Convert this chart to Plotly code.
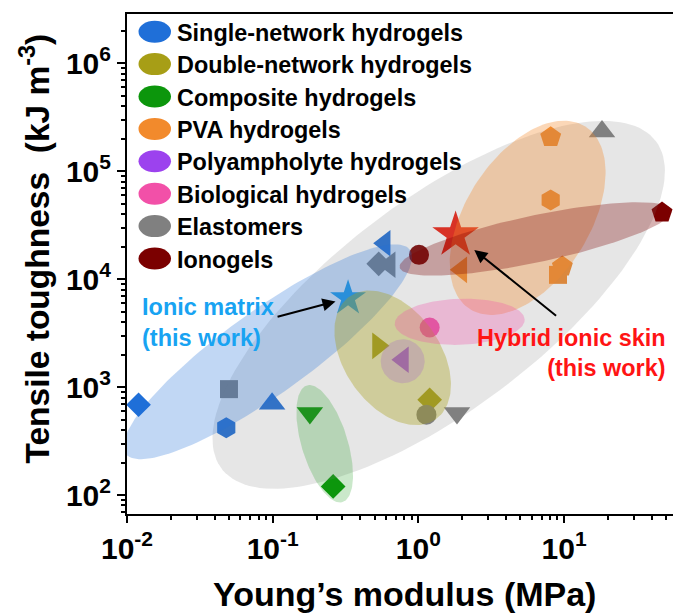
import numpy as np
import plotly.graph_objects as go

# ---------------- data ----------------
categories = ["Single-network hydrogels", "Double-network hydrogels", "Composite hydrogels",
              "PVA hydrogels", "Polyampholyte hydrogels", "Biological hydrogels",
              "Elastomers", "Ionogels"]
colors = ["#1F6FD8", "#A79E16", "#0C960C", "#F28A2C", "#9C42EE", "#F250A8", "#808080", "#7B0000"]

# Young's modulus (MPa), tensile toughness (kJ m^-3), marker symbol
single_E = [0.012, 0.048, 0.099, 0.587]
single_T = [686, 420, 700, 21500]
single_sym = ["diamond", "hexagon", "triangle-up", "triangle-left"]

double_E = [0.528, 1.195]
double_T = [2410, 763]
double_sym = ["triangle-right", "diamond"]

composite_E = [0.18, 0.26]
composite_T = [574, 120]
composite_sym = ["triangle-down", "diamond"]

pva_E = [8.09, 8.09, 9.73, 9.08, 1.97]
pva_T = [206500, 54200, 13100, 10960, 12190]
pva_sym = ["pentagon", "hexagon", "pentagon", "square", "triangle-left"]

polyampholyte_E = [0.783]
polyampholyte_T = [1790]
polyampholyte_sym = ["triangle-left"]

biological_E = [1.195]
biological_T = [3565]
biological_sym = ["circle"]

elastomer_E = [0.0501, 0.534, 0.635, 1.135, 1.84, 18.2]
elastomer_T = [957, 13870, 13600, 555, 574, 232800]
elastomer_sym = ["square", "diamond", "triangle-left", "circle", "triangle-down", "triangle-up"]

ionogel_E = [1.01, 47.0]
ionogel_T = [16800, 41400]
ionogel_sym = ["circle", "pentagon"]

# this work
matrix_E, matrix_T = 0.329, 6670
skin_E, skin_T = 1.80, 25700

x_tickvals = [0.01, 0.1, 1, 10]
x_ticktext = ["10<sup>-2</sup>", "10<sup>-1</sup>", "10<sup>0</sup>", "10<sup>1</sup>"]
y_tickvals = [1e2, 1e3, 1e4, 1e5, 1e6]
y_ticktext = ["10<sup>2</sup>", "10<sup>3</sup>", "10<sup>4</sup>", "10<sup>5</sup>", "10<sup>6</sup>"]

# ---------------- layout geometry ----------------
W, H = 673, 613
ML, MR, MT, MB = 127, 0, 14, 99
PW, PH = W - ML - MR, H - MT - MB
X_RANGE = [-2.0, 1.7474]
Y_RANGE = [1.8241, 6.4565]
PX_DEC_X = PW / (X_RANGE[1] - X_RANGE[0])
PX_DEC_Y = PH / (Y_RANGE[1] - Y_RANGE[0])

FONT = "Liberation Sans, Arial, sans-serif"

def px_x(p):
    return (p - ML) / PW

def px_y(p):
    return (H - MB - p) / PH

SIZES = {"diamond": 19, "hexagon": 21, "triangle-up": 23, "triangle-down": 23,
         "triangle-left": 23, "triangle-right": 23, "pentagon": 22, "square": 18,
         "circle": 20}

groups = [
    (single_E, single_T, single_sym, colors[0]),
    (double_E, double_T, double_sym, colors[1]),
    (composite_E, composite_T, composite_sym, colors[2]),
    (pva_E, pva_T, pva_sym, colors[3]),
    (polyampholyte_E, polyampholyte_T, polyampholyte_sym, colors[4]),
    (biological_E, biological_T, biological_sym, colors[5]),
    (elastomer_E, elastomer_T, elastomer_sym, colors[6]),
    (ionogel_E, ionogel_T, ionogel_sym, colors[7]),
]

fig = go.Figure()

for E, T, sym, col in groups:
    fig.add_trace(go.Scatter(
        x=E, y=T, mode="markers", showlegend=False, hoverinfo="skip",
        marker=dict(symbol=sym, size=[SIZES[s] for s in sym], color=col,
                    opacity=1, line=dict(width=0))))

fig.add_trace(go.Scatter(x=[matrix_E], y=[matrix_T], mode="markers", showlegend=False,
                         marker=dict(symbol="star", size=27, color="#18A3F2", line=dict(width=0))))
fig.add_trace(go.Scatter(x=[skin_E], y=[skin_T], mode="markers", showlegend=False,
                         marker=dict(symbol="star", size=35, color="#EE1E10", line=dict(width=0))))

# translucent regions: center (E, T), half axes in px, screen angle in degrees, fill
regions = [
    (1.378, 5780, 272, 105, 37, "rgba(128,128,128,0.20)"),
    (0.0924, 2124, 175, 42, 35.6, "rgba(31,111,216,0.28)"),
    (0.2275, 298.6, 61, 23, -73, "rgba(12,150,12,0.22)"),
    (0.666, 1867, 75, 48, -55, "rgba(167,158,22,0.36)"),
    (5.62, 36980, 108, 62, 57.7, "rgba(242,138,44,0.34)"),
    (1.92, 4027, 65, 23, 2, "rgba(242,80,168,0.30)"),
    (6.38, 23600, 139, 23.5, 11.9, "rgba(123,0,0,0.30)"),
    (0.78, 1734, 22, 22, 0, "rgba(170,110,200,0.30)"),
]

def ellipse(cE, cT, a, b, ang, n=160):
    t = np.linspace(0, 2 * np.pi, n)
    th = np.radians(ang)
    dx = a * np.cos(t) * np.cos(th) - b * np.sin(t) * np.sin(th)
    dy = a * np.cos(t) * np.sin(th) + b * np.sin(t) * np.cos(th)
    return (10 ** (np.log10(cE) + dx / PX_DEC_X),
            10 ** (np.log10(cT) + dy / PX_DEC_Y))

for cE, cT, a, b, ang, fc in regions:
    ex, ey = ellipse(cE, cT, a, b, ang)
    fig.add_trace(go.Scatter(x=ex, y=ey, mode="lines", fill="toself", fillcolor=fc,
                             line=dict(width=0), showlegend=False, hoverinfo="skip"))

# legend drawn as ellipse swatches with labels
shapes = []
annotations = []
row0, row_step = 31.7, 32.4
for i, (name, col) in enumerate(zip(categories, colors)):
    cy = row0 + i * row_step
    shapes.append(dict(type="circle", xref="paper", yref="paper",
                       x0=px_x(138.5), x1=px_x(171), y0=px_y(cy + 11), y1=px_y(cy - 11),
                       fillcolor=col, line=dict(width=0), layer="above"))
    annotations.append(dict(xref="paper", yref="paper", x=px_x(175), y=px_y(cy + 1),
                            text=name, showarrow=False, xanchor="left", yanchor="middle",
                            font=dict(family=FONT, size=23.4, color="black", weight="bold")))

# labels for this work
annotations.append(dict(xref="paper", yref="paper", x=px_x(140), y=px_y(322),
                        text="Ionic matrix<br>(this work)", showarrow=False, align="left",
                        xanchor="left", yanchor="middle",
                        font=dict(family=FONT, size=23.5, color="#18A3F2", weight="bold")))
annotations.append(dict(xref="paper", yref="paper", x=px_x(667), y=px_y(353),
                        text="Hybrid ionic skin<br>(this work)", showarrow=False, align="right",
                        xanchor="right", yanchor="middle",
                        font=dict(family=FONT, size=23.4, color="#FF1414", weight="bold")))

# arrows pointing to the two stars
annotations.append(dict(x=np.log10(matrix_E), y=np.log10(matrix_T), xref="x", yref="y",
                        text="", showarrow=True, ax=-72, ay=19, standoff=13,
                        arrowhead=2, arrowsize=1.3, arrowwidth=2, arrowcolor="black"))
annotations.append(dict(x=np.log10(skin_E), y=np.log10(skin_T), xref="x", yref="y",
                        text="", showarrow=True, ax=102, ay=82, standoff=24,
                        arrowhead=2, arrowsize=1.3, arrowwidth=2, arrowcolor="black"))

# axis titles
annotations.append(dict(xref="paper", yref="paper", x=px_x(404), y=px_y(593.5),
                        text="Young’s modulus (MPa)", showarrow=False,
                        xanchor="center", yanchor="middle",
                        font=dict(family=FONT, size=34, color="black", weight="bold")))
annotations.append(dict(xref="paper", yref="paper", x=px_x(34), y=px_y(248.5),
                        text="Tensile toughness  (kJ m<sup>-3</sup>)", showarrow=False,
                        textangle=-90, xanchor="center", yanchor="middle",
                        font=dict(family=FONT, size=33.5, color="black", weight="bold")))

x_minor = [k * 10.0 ** n for n in range(-2, 2) for k in range(2, 10)]
y_minor = [k * 10.0 ** n for n in range(1, 7) for k in range(2, 10)]

axis_common = dict(showgrid=False, zeroline=False, showline=True, linecolor="black",
                   linewidth=2, ticks="outside", tickcolor="black", tickwidth=2,
                   tickmode="array",
                   tickfont=dict(family=FONT, size=30, color="black", weight="bold"))

fig.update_layout(
    width=W, height=H, margin=dict(l=ML, r=MR, t=MT, b=MB, pad=0),
    paper_bgcolor="white", plot_bgcolor="white",
    shapes=shapes, annotations=annotations, showlegend=False,
    xaxis=dict(type="log", range=X_RANGE, tickvals=x_tickvals, ticktext=x_ticktext,
               ticklen=7, mirror=True,
               minor=dict(tickmode="array", tickvals=x_minor, ticks="outside",
                          ticklen=4, tickwidth=1.5, tickcolor="black"),
               **axis_common),
    yaxis=dict(type="log", range=Y_RANGE, tickvals=y_tickvals, ticktext=y_ticktext,
               ticklen=8, mirror=False,
               minor=dict(tickmode="array", tickvals=y_minor, ticks="outside",
                          ticklen=4, tickwidth=1.5, tickcolor="black"),
               **axis_common),
)

fig.write_html("out.html")
